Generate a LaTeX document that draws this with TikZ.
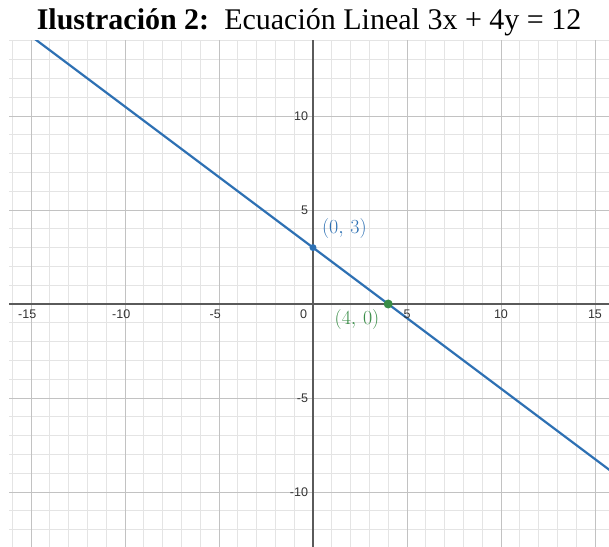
\RequirePackage{fix-cm}
\documentclass[tikz,border=0pt]{standalone}
\usepackage{fontspec}
\setmainfont{Liberation Serif}
\newfontfamily\tickfont{Liberation Sans}
\usepackage{xcolor}
\usepackage{tikz}
\usetikzlibrary{positioning}

\definecolor{desblue}{HTML}{2D70B3}
\definecolor{desgreen}{HTML}{388C46}
\definecolor{minorgrid}{HTML}{E4E4E4}
\definecolor{majorgrid}{HTML}{C2C2C2}
\definecolor{axisgray}{HTML}{5A5A5A}

\begin{document}
\begin{tikzpicture}[x=18.8pt, y=18.8pt,
    tick/.style={font=\tickfont\fontsize{12.5}{14}\selectfont, text=black!80, inner sep=1pt},
    ptlabel/.style={font=\fontsize{20}{22}\selectfont, inner sep=0pt},
    dot/.style={circle, inner sep=0pt, minimum size=#1}]
  \useasboundingbox (-16.649,-12.926) rectangle (15.745,16.170);
  % grid, clipped to the plot window
  \begin{scope}
    \clip (-16.17,-12.926) rectangle (15.745,14.04);
    \draw[step=1, minorgrid, line width=0.7pt] (-17,-13) grid (16,15);
    \draw[step=5, majorgrid, line width=0.9pt] (-20,-15) grid (20,15);
    \draw[axisgray, line width=1.4pt] (-17,0) -- (16,0);
    \draw[axisgray, line width=1.4pt] (0,-13) -- (0,15);
    % the line 3x+4y=12
    \coordinate (lineA) at (-16,15);
    \coordinate (lineB) at (16,-9);
    \draw[desblue, line width=2.2pt] (lineA) -- (lineB);
  \end{scope}
  % tick labels
  \node[tick, anchor=north] (xm15) at (-15.2,-0.25) {-15};
  \node[tick, anchor=north] (xm10) at (-10.2,-0.25) {-10};
  \node[tick, anchor=north] (xm5)  at (-5.2,-0.25) {-5};
  \node[tick, anchor=north east] (x0) at (-0.25,-0.25) {0};
  \node[tick, anchor=north] (x5)  at (5,-0.25) {5};
  \node[tick, anchor=north] (x10) at (10,-0.25) {10};
  \node[tick, anchor=north] (x15) at (15,-0.25) {15};
  \node[tick, anchor=east] (y10) at (-0.2,10) {10};
  \node[tick, anchor=east] (y5)  at (-0.2,5) {5};
  \node[tick, anchor=east] (ym5) at (-0.2,-5) {-5};
  \node[tick, anchor=east] (ym10) at (-0.2,-10) {-10};
  % intercepts
  \node[dot=7pt, fill=desblue] (p03) at (0,3) {};
  \node[dot=9pt, fill=desgreen] (p40) at (4,0) {};
  \node[ptlabel, text=desblue] (l03) at (1.67,4.04) {$(0,\,3)$};
  \node[ptlabel, text=desgreen] (l40) at (2.34,-0.85) {$(4,\,0)$};
  % title
  \node[anchor=base, font=\fontsize{30}{33}\selectfont, inner sep=0pt] (title) at (-0.21,14.6)
    {\textbf{Ilustración 2:}\ \ Ecuación Lineal 3x + 4y = 12};
\end{tikzpicture}
\end{document}
